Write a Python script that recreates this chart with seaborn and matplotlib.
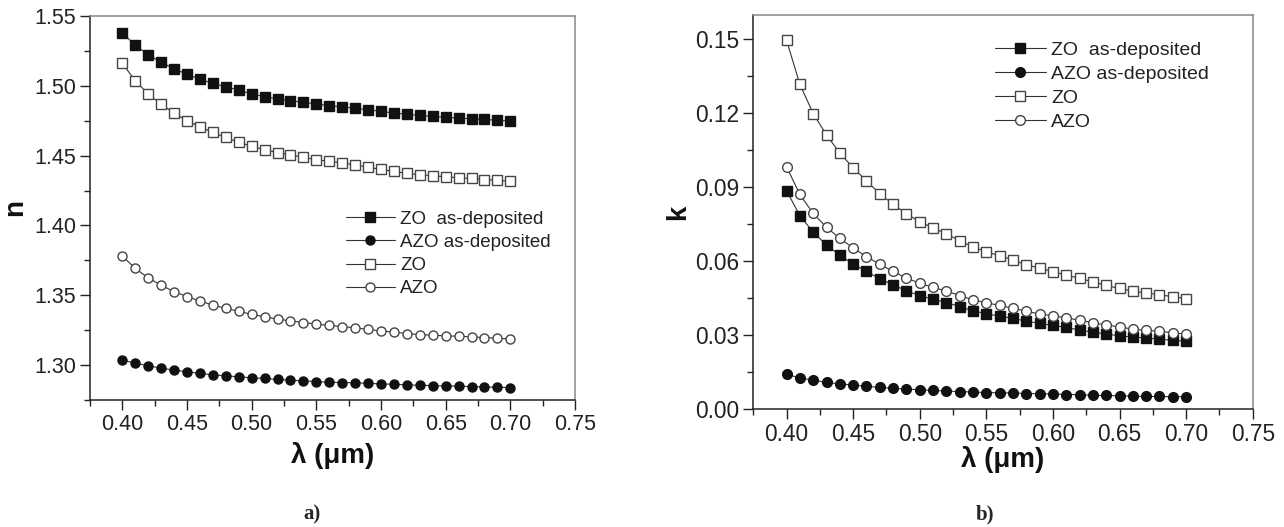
import numpy as np
import pandas as pd
import matplotlib
matplotlib.use("Agg")
import matplotlib.pyplot as plt
import seaborn as sns
from matplotlib.ticker import MultipleLocator

sns.set_theme(style="ticks")
plt.rcParams['font.family'] = ['Liberation Sans', 'DejaVu Sans']

wavelength = [0.40, 0.41, 0.42, 0.43, 0.44, 0.45, 0.46, 0.47, 0.48, 0.49, 0.50,
              0.51, 0.52, 0.53, 0.54, 0.55, 0.56, 0.57, 0.58, 0.59, 0.60,
              0.61, 0.62, 0.63, 0.64, 0.65, 0.66, 0.67, 0.68, 0.69, 0.70]

labels = ["ZO  as-deposited", "AZO as-deposited", "ZO", "AZO"]

n_zo_asdep = [1.5380, 1.5290, 1.5224, 1.5168, 1.5123, 1.5082, 1.5048, 1.5017, 1.4993, 1.4969, 1.4942,
              1.4923, 1.4906, 1.4894, 1.4882, 1.4870, 1.4858, 1.4849, 1.4839, 1.4829, 1.4817,
              1.4805, 1.4796, 1.4788, 1.4781, 1.4774, 1.4769, 1.4764, 1.4760, 1.4752, 1.4748]
n_azo_asdep = [1.3036, 1.3014, 1.2995, 1.2978, 1.2964, 1.2952, 1.2940, 1.2930, 1.2923, 1.2916, 1.2909,
               1.2904, 1.2897, 1.2892, 1.2887, 1.2882, 1.2877, 1.2875, 1.2873, 1.2870, 1.2865,
               1.2863, 1.2858, 1.2856, 1.2853, 1.2851, 1.2849, 1.2846, 1.2844, 1.2841, 1.2839]
n_zo = [1.5161, 1.5036, 1.4942, 1.4868, 1.4805, 1.4750, 1.4707, 1.4666, 1.4630, 1.4596, 1.4567,
        1.4543, 1.4522, 1.4505, 1.4488, 1.4471, 1.4459, 1.4447, 1.4433, 1.4418, 1.4401,
        1.4387, 1.4373, 1.4363, 1.4356, 1.4349, 1.4341, 1.4337, 1.4329, 1.4322, 1.4317]
n_azo = [1.3781, 1.3692, 1.3625, 1.3572, 1.3526, 1.3490, 1.3459, 1.3430, 1.3406, 1.3385, 1.3363,
         1.3346, 1.3329, 1.3317, 1.3305, 1.3293, 1.3284, 1.3276, 1.3267, 1.3255, 1.3245,
         1.3236, 1.3226, 1.3219, 1.3214, 1.3209, 1.3207, 1.3202, 1.3197, 1.3192, 1.3187]

k_zo_asdep = [0.0886, 0.0785, 0.0718, 0.0666, 0.0625, 0.0589, 0.0559, 0.0529, 0.0505, 0.0480, 0.0461,
              0.0446, 0.0433, 0.0416, 0.0399, 0.0388, 0.0377, 0.0369, 0.0357, 0.0349, 0.0340,
              0.0332, 0.0321, 0.0313, 0.0305, 0.0298, 0.0293, 0.0289, 0.0284, 0.0280, 0.0276]
k_azo_asdep = [0.0142, 0.0127, 0.0118, 0.0109, 0.0103, 0.0098, 0.0093, 0.0089, 0.0085, 0.0082, 0.0079,
               0.0077, 0.0074, 0.0072, 0.0070, 0.0068, 0.0067, 0.0066, 0.0064, 0.0063, 0.0062,
               0.0060, 0.0059, 0.0057, 0.0056, 0.0055, 0.0053, 0.0052, 0.0052, 0.0051, 0.0051]
k_zo = [0.1496, 0.1317, 0.1199, 0.1112, 0.1039, 0.0979, 0.0926, 0.0874, 0.0831, 0.0793, 0.0760,
        0.0736, 0.0711, 0.0684, 0.0658, 0.0639, 0.0622, 0.0606, 0.0585, 0.0573, 0.0558,
        0.0544, 0.0531, 0.0517, 0.0502, 0.0490, 0.0479, 0.0472, 0.0464, 0.0457, 0.0448]
k_azo = [0.0983, 0.0871, 0.0794, 0.0738, 0.0693, 0.0654, 0.0619, 0.0588, 0.0559, 0.0532, 0.0511,
         0.0494, 0.0480, 0.0461, 0.0444, 0.0432, 0.0421, 0.0410, 0.0397, 0.0387, 0.0379,
         0.0371, 0.0361, 0.0351, 0.0342, 0.0334, 0.0325, 0.0320, 0.0316, 0.0310, 0.0305]

x_ticks = [0.40, 0.45, 0.50, 0.55, 0.60, 0.65, 0.70, 0.75]
n_ticks = [1.30, 1.35, 1.40, 1.45, 1.50, 1.55]
k_ticks = [0.00, 0.03, 0.06, 0.09, 0.12, 0.15]

styles = [
    dict(marker="s", mfc="#111111", mec="#111111"),
    dict(marker="o", mfc="#111111", mec="#111111"),
    dict(marker="s", mfc="white", mec="#444444"),
    dict(marker="o", mfc="white", mec="#444444"),
]

fig = plt.figure(figsize=(12.84, 5.27), dpi=100)
ax1 = fig.add_axes([90/1284, 1-400/527, 485/1284, 384/527])
ax2 = fig.add_axes([753.3/1284, 1-409.3/527, 499.4/1284, 394.6/527])


def draw(ax, series, ms, fs_tick, ylab, ylabpad, xlabpad, ticks, ylim, yminor,
         legpos, fs_leg, legspace):
    handles = []
    for lab, vals, st in zip(labels, series, styles):
        df = pd.DataFrame({"x": wavelength, "y": vals})
        sns.lineplot(data=df, x="x", y="y", ax=ax, color="#333333", lw=0.8,
                     marker=st["marker"], markersize=ms, markerfacecolor=st["mfc"],
                     markeredgecolor=st["mec"], markeredgewidth=1.0, label=lab,
                     legend=False)
        handles.append(ax.get_lines()[-1])
    ax.set_xlim(0.375, 0.75)
    ax.set_ylim(*ylim)
    ax.set_xticks(x_ticks)
    ax.set_xticklabels([f"{t:.2f}" for t in x_ticks])
    ax.set_yticks(ticks)
    ax.set_yticklabels([f"{t:.2f}" for t in ticks])
    ax.xaxis.set_minor_locator(MultipleLocator(0.025))
    ax.yaxis.set_minor_locator(MultipleLocator(yminor))
    ax.tick_params(which="major", direction="out", length=7, width=1.0,
                   labelsize=fs_tick, labelcolor="#222222", color="#222222", pad=3,
                   top=False, right=False)
    ax.tick_params(which="minor", direction="out", length=4, width=1.0,
                   color="#222222", top=False, right=False)
    for s in ["left", "bottom"]:
        ax.spines[s].set_color("#222222")
        ax.spines[s].set_linewidth(1.1)
    for s in ["top", "right"]:
        ax.spines[s].set_color("#888888")
        ax.spines[s].set_linewidth(1.1)
    ax.set_xlabel("λ (μm)", fontsize=20, fontweight="bold", labelpad=xlabpad, color="#111111")
    ax.set_ylabel(ylab, fontsize=20, fontweight="bold", labelpad=ylabpad, color="#111111")
    leg = ax.legend(handles=handles, labels=labels, loc="upper left",
                    bbox_to_anchor=legpos, frameon=False, fontsize=fs_leg,
                    handlelength=2.6, handletextpad=0.3, labelspacing=legspace,
                    borderpad=0, borderaxespad=0)
    for t in leg.get_texts():
        t.set_color("#222222")


draw(ax1, [n_zo_asdep, n_azo_asdep, n_zo, n_azo], 6.5, 15.5, "n", 4, 5,
     n_ticks, (1.275, 1.55), 0.025, (0.528, 0.493), 13.5, 0.32)
draw(ax2, [k_zo_asdep, k_azo_asdep, k_zo, k_azo], 7.0, 16.4, "k", 3, 0,
     k_ticks, (0.0, 0.16), 0.015, (0.484, 0.933), 14, 0.33)

fig.text(312/1284, 1-514/527, "a)", fontsize=15, fontweight="bold",
         family="Liberation Serif", ha="center", va="center")
fig.text(985/1284, 1-514/527, "b)", fontsize=15, fontweight="bold",
         family="Liberation Serif", ha="center", va="center")

fig.savefig("out.png", dpi=100)
